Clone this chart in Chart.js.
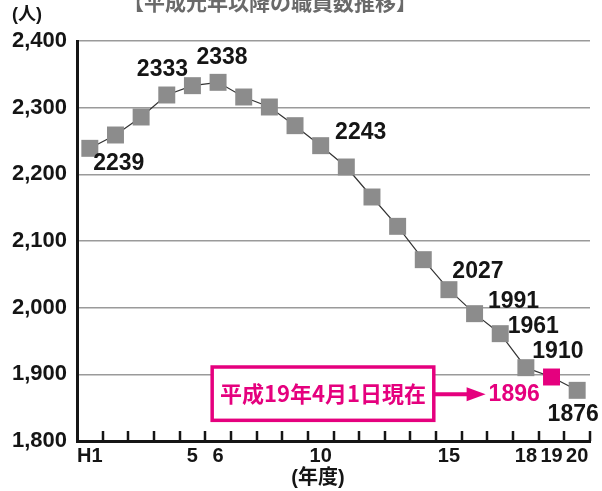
<!DOCTYPE html>
<html lang="ja">
<head>
  <meta charset="UTF-8">
  <title>平成元年以降の職員数推移</title>
  <script src="https://cdn.jsdelivr.net/npm/chart.js"></script>
  <style>
    html, body { margin: 0; padding: 0; background: #fff; }
    #wrap { width: 602px; height: 491px; }
  </style>
</head>
<body>
  <div id="wrap"><canvas id="staffChart"></canvas></div>

  <script>
    // data
    const years = ['H1', '', '', '', '5', '6', '', '', '', '10', '', '', '', '', '15', '', '', '18', '19', '20'];
    const staff = [2239, 2259, 2286, 2319, 2333, 2338, 2316, 2301, 2273, 2243, 2211, 2166, 2122, 2072, 2027, 1991, 1961, 1910, 1896, 1876];
    const labeledIdx = [0, 4, 5, 9, 14, 15, 16, 17, 19];
    const currentIdx = 18;   // 平成19年4月1日現在
    const yTicks = [1800, 1900, 2000, 2100, 2200, 2300, 2400];

    const titleText = '【平成元年以降の職員数推移】';
    const noteText = '平成19年4月1日現在';

    // label placement (dx, dy from the point), same order as labeledIdx
    const labelOffsets = [[29, 15], [-30, -16], [4, -25], [40, -13], [29, -18], [39, -12], [33, -7], [32, -16], [-4, 24]];

    const FONT = "'Liberation Sans', Arial, 'Noto Sans CJK JP', sans-serif";
    const JP = "'Noto Sans CJK JP', sans-serif";
    const PINK = '#e5007e';
    const GRAY = '#8c8c8c';
    const INK = '#151515';

    const decor = {
      id: 'decor',
      afterDraw(chart) {
        const { ctx, chartArea: a, scales: { x, y } } = chart;
        ctx.save();

        // inward tick marks on the bottom axis
        ctx.strokeStyle = INK;
        ctx.lineWidth = 2.5;
        for (let i = 1; i <= years.length; i++) {
          const px = Math.round(x.getPixelForValue(i - 0.5));
          ctx.beginPath();
          ctx.moveTo(px, a.bottom);
          ctx.lineTo(px, a.bottom - 10);
          ctx.stroke();
        }

        ctx.textAlign = 'center';
        ctx.textBaseline = 'middle';

        // title (cut off at the top edge)
        ctx.fillStyle = '#6a6a6a';
        ctx.font = 'bold 21px ' + JP;
        ctx.fillText(titleText, 270, 2);

        // units
        ctx.fillStyle = INK;
        ctx.font = 'bold 18px ' + FONT;
        ctx.fillText('(人)', 27, 15);
        ctx.font = 'bold 20px ' + FONT;
        ctx.fillText('(年度)', 318, 478);

        // value labels
        const meta = chart.getDatasetMeta(0);
        ctx.font = 'bold 23px ' + FONT;
        labeledIdx.forEach((idx, k) => {
          const pt = meta.data[idx];
          ctx.fillText(String(staff[idx]), pt.x + labelOffsets[k][0], pt.y + labelOffsets[k][1]);
        });

        // note box + arrow
        const bx1 = x.getPixelForValue(4.77), bx2 = x.getPixelForValue(13.41);
        const by1 = y.getPixelForValue(1911), by2 = y.getPixelForValue(1831);
        const ay = y.getPixelForValue(1870);
        const ax2 = x.getPixelForValue(15.43);
        ctx.fillStyle = '#fff';
        ctx.fillRect(bx1, by1, bx2 - bx1, by2 - by1);
        ctx.strokeStyle = PINK;
        ctx.lineWidth = 3.5;
        ctx.strokeRect(bx1, by1, bx2 - bx1, by2 - by1);
        ctx.fillStyle = PINK;
        ctx.font = 'bold 22px ' + JP;
        ctx.fillText(noteText, (bx1 + bx2) / 2, (by1 + by2) / 2);

        ctx.lineWidth = 4;
        ctx.beginPath();
        ctx.moveTo(bx2, ay);
        ctx.lineTo(ax2 - 14, ay);
        ctx.stroke();
        ctx.beginPath();
        ctx.moveTo(ax2 - 19, ay - 7);
        ctx.lineTo(ax2, ay);
        ctx.lineTo(ax2 - 19, ay + 7);
        ctx.closePath();
        ctx.fill();

        ctx.textAlign = 'left';
        ctx.font = 'bold 23px ' + FONT;
        ctx.fillText(String(staff[currentIdx]), ax2 + 3, ay);

        ctx.restore();
      }
    };

    new Chart(document.getElementById('staffChart'), {
      type: 'line',
      data: {
        labels: years,
        datasets: [{
          data: staff,
          borderColor: '#333',
          borderWidth: 1.2,
          pointStyle: 'rect',
          pointRadius: 12,
          pointBorderWidth: 0,
          pointBackgroundColor: ctx => ctx.dataIndex === currentIdx ? PINK : GRAY,
          clip: false
        }]
      },
      options: {
        responsive: true,
        maintainAspectRatio: false,
        animation: false,
        layout: { padding: { top: 41, right: 9, left: 0, bottom: 0 } },
        plugins: { legend: { display: false }, tooltip: { enabled: false }, title: { display: false } },
        scales: {
          x: {
            offset: true,
            grid: { display: true, drawOnChartArea: false, drawTicks: false },
            border: { display: true, color: INK, width: 3 },
            ticks: { autoSkip: false, maxRotation: 0, color: INK, padding: 3, font: { family: FONT, size: 20, weight: 'bold' } },
            afterFit: s => { s.height = 50; }
          },
          y: {
            min: 1800,
            max: 2400,
            afterBuildTicks: s => { s.ticks = yTicks.map(v => ({ value: v })); },
            grid: { color: '#9a9a9a', lineWidth: 1.5, drawTicks: false },
            border: { display: true, color: INK, width: 3 },
            ticks: { color: INK, padding: 10, font: { family: FONT, size: 22, weight: 'bold' }, callback: v => v.toLocaleString('en-US') },
            afterFit: s => { s.width = 77; }
          }
        }
      },
      plugins: [decor]
    });
  </script>
</body>
</html>
